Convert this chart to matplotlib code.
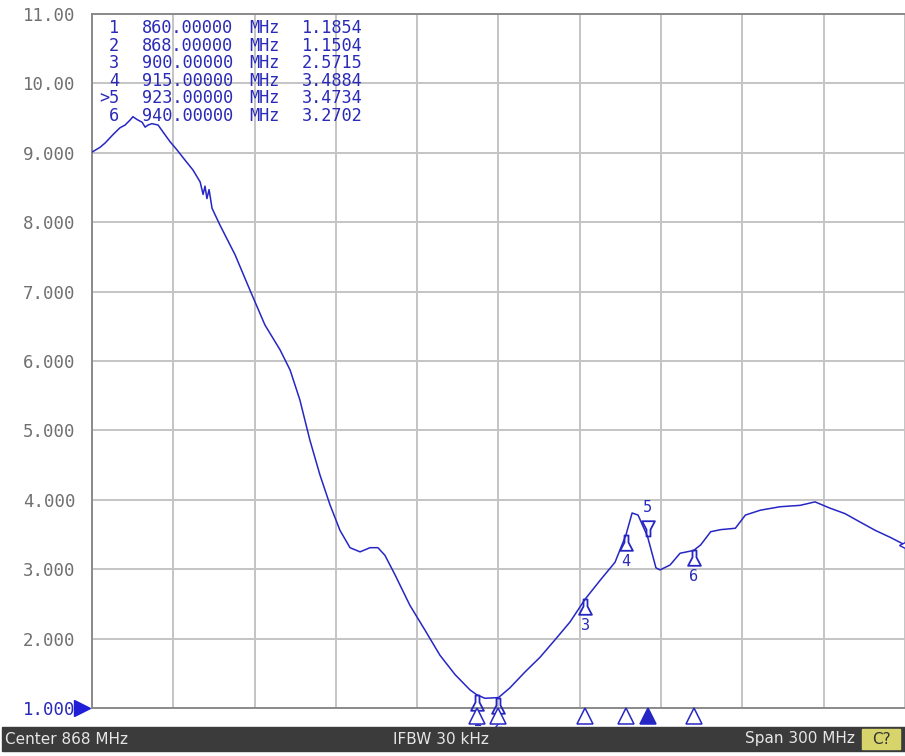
import numpy as np
import matplotlib
matplotlib.use("Agg")
from matplotlib import pyplot as plt
from matplotlib.path import Path
from matplotlib.patches import Rectangle

# trace (MHz, SWR)
freq = [718.0, 721.0, 722.8, 725.7, 728.3, 730.2, 732.0, 733.1, 734.6, 736.5,
        737.6, 738.7, 740.1, 742.4, 744.2, 746.8, 749.4, 751.6, 755.3, 757.9,
        759.0, 759.7, 760.4, 761.2, 762.3, 765.2, 770.8, 776.3, 781.8, 787.4,
        791.1, 794.7, 798.4, 802.1, 805.8, 809.5, 813.2, 816.9, 820.6, 823.5,
        826.1, 829.8, 835.3, 840.9, 846.4, 852.0, 857.5, 860.0, 863.0, 868.0,
        872.2, 877.8, 883.3, 888.8, 894.4, 900.0, 905.5, 911.0, 915.0, 917.3,
        919.5, 923.0, 926.1, 927.6, 931.3, 935.0, 940.0, 942.6, 946.3, 950.0,
        955.4, 959.1, 964.6, 971.9, 979.3, 984.8, 990.3, 995.9, 1001.4, 1007.0,
        1012.5, 1018.0]
swr = [9.01, 9.08, 9.14, 9.26, 9.36, 9.40, 9.47, 9.52, 9.48, 9.44,
       9.37, 9.40, 9.42, 9.40, 9.30, 9.16, 9.04, 8.93, 8.75, 8.58,
       8.40, 8.52, 8.34, 8.47, 8.20, 7.96, 7.53, 7.02, 6.52, 6.16,
       5.87, 5.44, 4.86, 4.36, 3.93, 3.56, 3.31, 3.25, 3.31, 3.31,
       3.20, 2.92, 2.48, 2.12, 1.76, 1.48, 1.26, 1.19, 1.14, 1.15,
       1.29, 1.52, 1.73, 1.98, 2.24, 2.57, 2.84, 3.10, 3.49, 3.81,
       3.78, 3.47, 3.02, 2.99, 3.06, 3.23, 3.27, 3.35, 3.54, 3.57,
       3.59, 3.78, 3.85, 3.90, 3.92, 3.97, 3.88, 3.80, 3.68, 3.56,
       3.46, 3.35]

mk_num = ["1", "2", "3", "4", "5", "6"]
mk_freq = [860.0, 868.0, 900.0, 915.0, 923.0, 940.0]
mk_val = [1.1854, 1.1504, 2.5715, 3.4884, 3.4734, 3.2702]
active = 4

ytick_vals = [1, 2, 3, 4, 5, 6, 7, 8, 9, 10, 11]
ytick_labels = ["1.000", "2.000", "3.000", "4.000", "5.000", "6.000",
                "7.000", "8.000", "9.000", "10.00", "11.00"]
center, span = 868, 300

W, H = 905, 756
BLUE = "#2626c4"
TXT_BLUE = "#2a2ab8"
MONO = "DejaVu Sans Mono"

fig = plt.figure(figsize=(W / 100, H / 100), dpi=100)
fig.patch.set_facecolor("white")


def fx(x):
    return x / W


def fy(y):
    return 1 - y / H


ax = fig.add_axes([fx(92), fy(708), fx(905) - fx(92), fy(14) - fy(708)])
ax.set_xlim(center - span / 2, center + span / 2)
ax.set_ylim(1, 11)
ax.set_xticks(np.linspace(center - span / 2, center + span / 2, 11))
ax.set_yticks(ytick_vals)
ax.set_yticklabels(ytick_labels, family=MONO)
ax.tick_params(axis="x", length=0, labelbottom=False)
ax.tick_params(axis="y", length=0, pad=12, labelsize=12.5, labelcolor="#707070")
ax.get_yticklabels()[0].set_color(TXT_BLUE)
ax.grid(True, color="#c4c4c4", lw=1.4)
for side in ["left", "top", "bottom"]:
    ax.spines[side].set_color("#8a8a8a")
    ax.spines[side].set_linewidth(1.4)
ax.spines["right"].set_visible(False)

ax.plot(freq, swr, color=BLUE, lw=1.1, zorder=3)

# bell shaped marker symbols (apex at the trace point)
up_verts = [(-0.13, 0), (0.13, 0), (0.13, -0.45), (0.42, -1), (-0.42, -1),
            (-0.13, -0.45), (-0.13, 0)]
up_bell = Path(up_verts, closed=True)
down_bell = Path([(x, -y) for x, y in up_verts], closed=True)

for i, (n, f, v) in enumerate(zip(mk_num, mk_freq, mk_val)):
    if i == active:
        ax.plot(f, v, marker=down_bell, ms=22, mfc="none", mec=BLUE, mew=1.3,
                clip_on=False, zorder=4)
        ax.annotate(n, (f, v), xytext=(0, 21), textcoords="offset points",
                    ha="center", va="center", color=TXT_BLUE, fontsize=11,
                    family=MONO)
    else:
        ax.plot(f, v, marker=up_bell, ms=22, mfc="none", mec=BLUE, mew=1.3,
                clip_on=False, zorder=4)
        ax.annotate(n, (f, v), xytext=(0, -19), textcoords="offset points",
                    ha="center", va="center", color=TXT_BLUE, fontsize=11,
                    family=MONO, annotation_clip=False)
    # strip of markers under the grid
    ax.plot(f, -0.012, transform=ax.get_xaxis_transform(), marker="^", ms=11,
            mfc=BLUE if i == active else "white", mec=BLUE, mew=1.1,
            clip_on=False, zorder=5)

# reference level arrow and right edge pointer
ax.plot(-0.012, 1.0, transform=ax.get_yaxis_transform(), marker=">", ms=12,
        color="#1f1fd8", clip_on=False)
ax.plot(1.0, swr[-1], transform=ax.get_yaxis_transform(), marker="<", ms=9,
        mfc="white", mec=BLUE, clip_on=False, zorder=5)

# marker readout table
row_y = [28, 45.6, 63.2, 80.8, 98.4, 116]
for i, (n, f, v) in enumerate(zip(mk_num, mk_freq, mk_val)):
    lab = (">" + n) if i == active else n
    kw = dict(va="center", color=TXT_BLUE, fontsize=12.2, family=MONO)
    fig.text(fx(119), fy(row_y[i]), lab, ha="right", **kw)
    fig.text(fx(142), fy(row_y[i]), f"{f:.5f}", ha="left", **kw)
    fig.text(fx(249), fy(row_y[i]), "MHz", ha="left", **kw)
    fig.text(fx(302), fy(row_y[i]), f"{v:.4f}", ha="left", **kw)

# status bar
fig.patches.append(Rectangle((fx(2), fy(751)), 1, fy(727) - fy(751),
                             transform=fig.transFigure, color="#3b3b3b",
                             zorder=0))
fig.patches.append(Rectangle((fx(862), fy(749)), fx(38), fy(729) - fy(749),
                             transform=fig.transFigure, color="#d6d46a",
                             zorder=1))
sb = dict(va="center", color="#e6e6e6", fontsize=11)
fig.text(fx(5), fy(739), f"Center {center} MHz", ha="left", **sb)
fig.text(fx(441), fy(739), "IFBW 30 kHz", ha="center", **sb)
fig.text(fx(855), fy(739), f"Span {span} MHz", ha="right", **sb)
fig.text(fx(881), fy(739), "C?", ha="center", va="center", color="#333333",
         fontsize=11)

fig.savefig("out.png", dpi=100)
